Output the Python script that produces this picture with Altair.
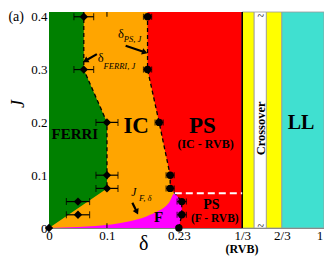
import math
import altair as alt
import pandas as pd

# ---------------- axis geometry (display units) ----------------
J_TOP = 0.409
X_MAX = 0.4744
THIRD = 1 / 3
PLOT_W = 275
PLOT_H = 216
PX_X = PLOT_W / X_MAX     # px per display unit along x (for arrow angles)
PX_Y = PLOT_H / J_TOP     # px per unit along J

# x ticks (display positions) and labels (broken axis beyond 1/3)
xtick_pos = [0, 0.1, 0.224, 1 / 3, 0.4017, 0.4667]
xtick_lab = ["0", "0.1", "0.23", "1/3", "2/3", "1"]
ytick_pos = [0, 0.1, 0.2, 0.3, 0.4]
ytick_lab = ["0", "0.1", "0.2", "0.3", "0.4"]

# ---------------- phase boundaries ----------------
# FERRI / IC boundary  (delta_FERRI,J)
ferri_J = [0, 0.075, 0.2, 0.3, J_TOP]
ferri_x = [0, 0.1, 0.1, 0.06, 0.06]
# IC / PS and F / PS boundary (delta_PS,J)
ps_J = [0, 0.025, 0.05, 0.066, 0.075, 0.1, 0.2, 0.3, J_TOP]
ps_x = [0.224, 0.229, 0.229, 0.217, 0.209, 0.209, 0.19, 0.17, 0.17]
# J_F,delta curve (top of F region)
jf_x = [0, 0.05, 0.08, 0.135, 0.168, 0.19, 0.207, 0.217, 0.235]
jf_J = [0, 0.002, 0.004, 0.012, 0.022, 0.033, 0.048, 0.066, 0.066]
# white dashed line between PS(IC-RVB) and PS(F-RVB)
rvb_J = 0.066
rvb_x0 = 0.217

# dashed boundary segments
ferri_dash_x = [0.06, 0.06, 0.1, 0.1]
ferri_dash_J = [J_TOP, 0.3, 0.2, 0.075]

# ---------------- data points with error bars ----------------
ferri_pt_x = [0.06, 0.06, 0.1, 0.1, 0.1, 0.05, 0.05, 0]
ferri_pt_J = [0.4, 0.3, 0.2, 0.1, 0.075, 0.05, 0.025, 0]
ferri_pt_err = [0.017, 0.017, 0.019, 0.019, 0.019, 0.02, 0.02, 0]
ps_pt_x = [0.17, 0.17, 0.19, 0.209, 0.209, 0.229, 0.229, 0.224]
ps_pt_J = [0.4, 0.3, 0.2, 0.1, 0.075, 0.05, 0.025, 0]
ps_pt_err = [0.007, 0.007, 0.007, 0.007, 0.007, 0.008, 0.008, 0]

# ---------------- bands beyond 1/3 ----------------
band_x1 = [1 / 3, 0.354, 0.375, 0.4017]
band_x2 = [0.354, 0.375, 0.4017, X_MAX]
band_col = ["#FFFF00", "#FFFFFF", "#FFFF00", "#40E0D0"]

# ---------------- arrows ----------------
arrow_x1 = [0.1322, 0.0826, 0.1438]
arrow_J1 = [0.3452, 0.3292, 0.0480]
arrow_x2 = [0.1653, 0.0628, 0.1516]
arrow_J2 = [0.3327, 0.3167, 0.0302]

# ---------------- texts ----------------
# text, x, J, size, weight, style, angle, align, baseline
labels = [
    ("(a)", -0.0700, 0.400, 14, "normal", "normal", 0, "left", "middle"),
    ("J", -0.0518, 0.235, 18, "normal", "italic", 270, "center", "middle"),
    ("δ", 0.1636, -0.0300, 20, "normal", "normal", 0, "center", "middle"),
    ("(RVB)", 0.333, -0.0405, 12, "bold", "normal", 0, "center", "middle"),
    ("FERRI", 0.0446, 0.178, 15, "bold", "normal", 0, "center", "middle"),
    ("IC", 0.1504, 0.193, 23, "bold", "normal", 0, "center", "middle"),
    ("PS", 0.2645, 0.193, 23, "bold", "normal", 0, "center", "middle"),
    ("(IC - RVB)", 0.270, 0.160, 12, "bold", "normal", 0, "center", "middle"),
    ("PS", 0.280, 0.043, 14, "bold", "normal", 0, "center", "middle"),
    ("(F - RVB)", 0.286, 0.0175, 11.5, "bold", "normal", 0, "center", "middle"),
    ("F", 0.189, 0.0214, 15, "bold", "normal", 0, "center", "middle"),
    ("LL", 0.4347, 0.199, 20, "bold", "normal", 0, "center", "middle"),
    ("Crossover", 0.3664, 0.1886, 12.5, "bold", "normal", 270, "center", "middle"),
    ("~", 0.3653, 0.402, 12, "normal", "normal", 0, "center", "middle"),
    ("~", 0.3653, 0.004, 12, "normal", "normal", 0, "center", "middle"),
    ("δ", 0.119, 0.3594, 12.5, "normal", "normal", 0, "left", "alphabetic"),
    ("PS, J", 0.129, 0.3523, 8.5, "normal", "italic", 0, "left", "alphabetic"),
    ("δ", 0.0843, 0.315, 12.5, "normal", "normal", 0, "left", "alphabetic"),
    ("FERRI, J", 0.0942, 0.3007, 8.5, "normal", "italic", 0, "left", "alphabetic"),
    ("J", 0.1421, 0.0605, 11.5, "normal", "italic", 0, "left", "alphabetic"),
    ("F, δ", 0.1554, 0.0516, 8.5, "normal", "italic", 0, "left", "alphabetic"),
]

FONT = "Liberation Serif"

# ---------------- scales / encodings ----------------
def lab_expr(pos, lab):
    expr = "''"
    for p, l in reversed(list(zip(pos, lab))):
        expr = f"abs(datum.value - {p:.5f}) < 0.002 ? '{l}' : " + expr
    return expr

xscale = alt.Scale(domain=[0, X_MAX], nice=False, zero=False)
yscale = alt.Scale(domain=[0, J_TOP], nice=False, zero=False)
xaxis = alt.Axis(values=xtick_pos, labelExpr=lab_expr(xtick_pos, xtick_lab), title=None,
                 grid=False, ticks=False, labelOverlap=False, labelFlush=False,
                 labelFont=FONT, labelFontSize=13, labelColor="black", labelPadding=1,
                 domainColor="#808080")
yaxis = alt.Axis(values=ytick_pos, labelExpr=lab_expr(ytick_pos, ytick_lab), title=None,
                 grid=False, ticks=False, labelOverlap=False, labelFlush=False,
                 labelFont=FONT, labelFontSize=13, labelColor="black", labelPadding=2,
                 domainColor="#808080")


def X(f="x"):
    return alt.X(f"{f}:Q", scale=xscale, axis=xaxis)


def Y(f="J"):
    return alt.Y(f"{f}:Q", scale=yscale, axis=yaxis)


layers = []

# red PS background up to 1/3
red_df = pd.DataFrame({"x": [0], "x2": [THIRD], "J": [0], "J2": [J_TOP]})
layers.append(alt.Chart(red_df).mark_rect(color="#FF0000").encode(
    x=X(), x2="x2:Q", y=Y(), y2="J2:Q"))

# orange IC region (left of PS boundary)
or_df = pd.DataFrame({"J": ps_J, "x": [0] * len(ps_J), "x2": ps_x})
layers.append(alt.Chart(or_df).mark_area(orient="horizontal", color="#FFA500").encode(
    y=Y(), x=X(), x2="x2:Q"))

# magenta F region under J_F,delta
f_df = pd.DataFrame({"x": jf_x, "J": jf_J, "J2": [0] * len(jf_x)})
layers.append(alt.Chart(f_df).mark_area(color="#FF00FF", interpolate="monotone").encode(
    x=X(), y=Y(), y2="J2:Q"))

# red again right of the F / PS boundary
low = [(j, x) for j, x in zip(ps_J, ps_x) if j <= rvb_J + 1e-9]
rr_df = pd.DataFrame({"J": [j for j, _ in low], "x": [x for _, x in low],
                      "x2": [THIRD] * len(low)})
layers.append(alt.Chart(rr_df).mark_area(orient="horizontal", color="#FF0000").encode(
    y=Y(), x=X(), x2="x2:Q"))

# green FERRI region
g_df = pd.DataFrame({"J": ferri_J, "x": [0] * len(ferri_J), "x2": ferri_x})
layers.append(alt.Chart(g_df).mark_area(orient="horizontal", color="#008000").encode(
    y=Y(), x=X(), x2="x2:Q"))

# bands beyond 1/3
b_df = pd.DataFrame({"x": band_x1, "x2": band_x2, "c": band_col,
                     "J": [0] * 4, "J2": [J_TOP] * 4})
layers.append(alt.Chart(b_df).mark_rect(stroke="#9a9a9a", strokeWidth=0.8).encode(
    x=X(), x2="x2:Q", y=Y(), y2="J2:Q", color=alt.Color("c:N", scale=None)))

# black line at 1/3
l3_df = pd.DataFrame({"x": [THIRD], "J": [0], "J2": [J_TOP]})
layers.append(alt.Chart(l3_df).mark_rule(color="black", strokeWidth=1.6).encode(
    x=X(), y=Y(), y2="J2:Q"))

# inward ticks at 0.1
tk_df = pd.DataFrame({"x": [0.1, 0.1], "J": [0, J_TOP - 0.009], "J2": [0.009, J_TOP]})
layers.append(alt.Chart(tk_df).mark_rule(color="black", strokeWidth=1).encode(
    x=X(), y=Y(), y2="J2:Q"))

# dashed boundaries
fd_df = pd.DataFrame({"x": ferri_dash_x, "J": ferri_dash_J, "i": range(len(ferri_dash_x))})
layers.append(alt.Chart(fd_df).mark_line(color="black", strokeWidth=1.3, strokeDash=[4, 3]).encode(
    x=X(), y=Y(), order="i:Q"))
pd_df = pd.DataFrame({"x": ps_x, "J": ps_J, "i": range(len(ps_x))})
layers.append(alt.Chart(pd_df).mark_line(color="black", strokeWidth=1.3, strokeDash=[4, 3]).encode(
    x=X(), y=Y(), order="i:Q"))
wd_df = pd.DataFrame({"x": [rvb_x0, THIRD], "J": [rvb_J, rvb_J], "i": [0, 1]})
layers.append(alt.Chart(wd_df).mark_line(color="white", strokeWidth=2, strokeDash=[7, 4]).encode(
    x=X(), y=Y(), order="i:Q"))

# error bars
def err_layers(xs, js, es, cap):
    df = pd.DataFrame({"x": [x - e for x, e in zip(xs, es) if e > 0],
                       "x2": [x + e for x, e in zip(xs, es) if e > 0],
                       "J": [j for j, e in zip(js, es) if e > 0]})
    caps = pd.DataFrame({"x": list(df["x"]) + list(df["x2"]), "J": list(df["J"]) * 2})
    return [
        alt.Chart(df).mark_rule(color="black", strokeWidth=1.2).encode(x=X(), x2="x2:Q", y=Y()),
        alt.Chart(caps).mark_tick(color="black", orient="vertical", size=cap, thickness=1.2).encode(
            x=X(), y=Y()),
    ]


layers += err_layers(ferri_pt_x, ferri_pt_J, ferri_pt_err, 7)
layers += err_layers(ps_pt_x, ps_pt_J, ps_pt_err, 6)

# points
fp_df = pd.DataFrame({"x": ferri_pt_x, "J": ferri_pt_J})
layers.append(alt.Chart(fp_df).mark_point(shape="diamond", filled=True, color="black",
                                          size=70, opacity=1).encode(x=X(), y=Y()))
pp_df = pd.DataFrame({"x": ps_pt_x, "J": ps_pt_J})
layers.append(alt.Chart(pp_df).mark_point(shape="circle", filled=True, color="black",
                                          size=55, opacity=1).encode(x=X(), y=Y()))

# arrows
a_df = pd.DataFrame({"x": arrow_x1, "J": arrow_J1, "x2": arrow_x2, "J2": arrow_J2})
layers.append(alt.Chart(a_df).mark_rule(color="black", strokeWidth=2.2).encode(
    x=X(), y=Y(), x2="x2:Q", y2="J2:Q"))
for x1, j1, x2, j2 in zip(arrow_x1, arrow_J1, arrow_x2, arrow_J2):
    ang = math.degrees(math.atan2(-(j2 - j1) * PX_Y, (x2 - x1) * PX_X)) % 360
    h_df = pd.DataFrame({"x": [x2], "J": [j2]})
    layers.append(alt.Chart(h_df).mark_point(shape="triangle-right", filled=True, color="black",
                                             size=42, opacity=1, angle=ang).encode(x=X(), y=Y()))

# texts
for t, x, j, s, w, st, ang, al, bl in labels:
    t_df = pd.DataFrame({"x": [x], "J": [j], "t": [t]})
    layers.append(alt.Chart(t_df).mark_text(font=FONT, fontSize=s, fontWeight=w, fontStyle=st,
                                            angle=ang, align=al, baseline=bl, color="black").encode(
        x=X(), y=Y(), text="t:N"))

chart = alt.layer(*layers).properties(
    width=PLOT_W, height=PLOT_H,
    autosize=alt.AutoSizeParams(type="none"),
    padding={"left": 41, "top": 4, "right": 0, "bottom": 28},
).configure_view(stroke="#808080", strokeWidth=1)

chart.save("out.html", embed_options={"renderer": "svg", "actions": False})
